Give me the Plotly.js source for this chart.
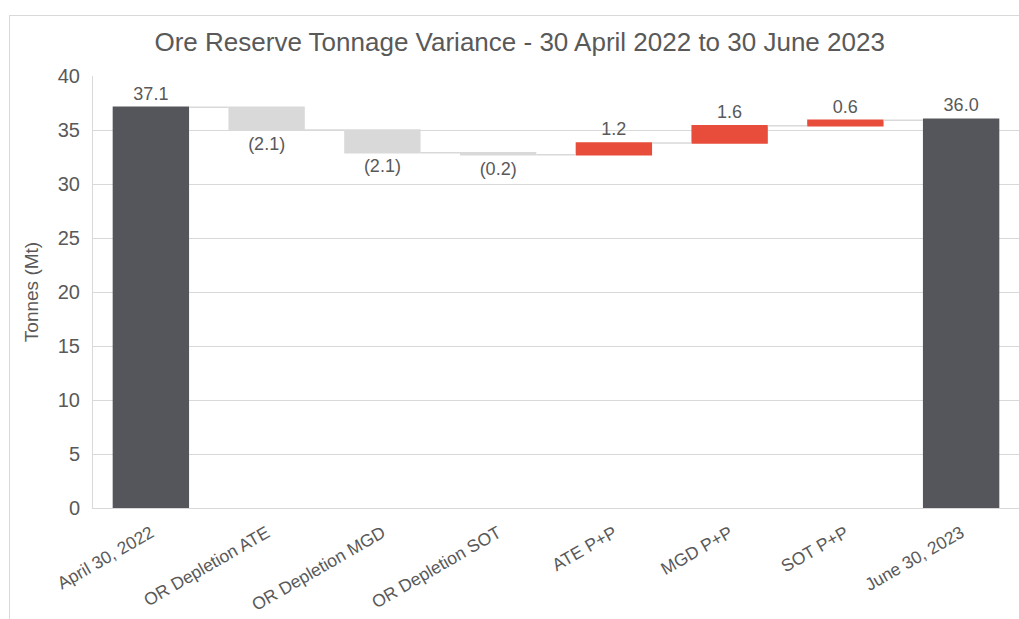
<!DOCTYPE html>
<html>
<head>
<meta charset="utf-8">
<script src="https://cdn.plot.ly/plotly-3.0.1.min.js"></script>
<style>
  body { margin: 0; background: #fff; }
  #frame { position: absolute; left: 9px; top: 15px; width: 1100px; height: 700px; border: 1px solid #d9d9d9; }
  #plot { position: absolute; left: 0; top: 0; width: 1019px; height: 619px; }
</style>
</head>
<body>
<div id="frame"></div>
<div id="plot"></div>
<script>
var categories = ['April 30, 2022', 'OR Depletion ATE', 'OR Depletion MGD', 'OR Depletion SOT',
                  'ATE P+P', 'MGD P+P', 'SOT P+P', 'June 30, 2023'];
var values = [37.1, -2.1, -2.1, -0.2, 1.1, 1.6, 0.5, 36.0];
var measures = ['absolute', 'relative', 'relative', 'relative', 'relative', 'relative', 'relative', 'absolute'];
var labels = ['37.1', '(2.1)', '(2.1)', '(0.2)', '1.2', '1.6', '0.6', '36.0'];
var yTicks = [0, 5, 10, 15, 20, 25, 30, 35, 40];

var grey = '#595959';

var trace = {
    type: 'waterfall',
    x: categories,
    y: values,
    measure: measures,
    text: labels,
    textinfo: 'text',
    textposition: 'outside',
    textfont: { family: 'Liberation Sans, Arial', size: 18, color: grey },
    cliponaxis: false,
    hoverinfo: 'skip',
    totals: { marker: { color: '#55565b' } },
    decreasing: { marker: { color: '#d9d9d9' } },
    increasing: { marker: { color: '#e84c3a' } },
    connector: { line: { color: '#d9d9d9', width: 1.5 } }
};

var layout = {
    width: 1019,
    height: 619,
    margin: { l: 93, r: 0, t: 76, b: 111 },
    paper_bgcolor: 'rgba(0,0,0,0)',
    plot_bgcolor: 'rgba(0,0,0,0)',
    showlegend: false,
    waterfallgap: 0.34,
    font: { family: 'Liberation Sans, Arial', color: grey },
    title: {
        text: 'Ore Reserve Tonnage Variance - 30 April 2022 to 30 June 2023',
        font: { size: 26, color: grey },
        x: 0.51, xanchor: 'center',
        y: 0.932, yanchor: 'middle'
    },
    xaxis: {
        type: 'category',
        tickangle: -30,
        tickfont: { size: 17.5, color: grey },
        showgrid: false,
        showline: true,
        linecolor: '#d9d9d9',
        linewidth: 1,
        ticks: 'outside',
        ticklen: 7,
        tickcolor: 'rgba(0,0,0,0)'
    },
    yaxis: {
        range: [0, 40],
        tickvals: yTicks,
        ticktext: yTicks.map(String),
        tickfont: { size: 20, color: grey },
        gridcolor: '#d9d9d9',
        gridwidth: 1,
        zeroline: false,
        showline: true,
        linecolor: '#d9d9d9',
        ticks: 'outside',
        ticklen: 8,
        tickcolor: 'rgba(0,0,0,0)',
        title: { text: 'Tonnes (Mt)', font: { size: 19, color: grey }, standoff: 14 }
    }
};

Plotly.newPlot('plot', [trace], layout, { staticPlot: true });
</script>
</body>
</html>
